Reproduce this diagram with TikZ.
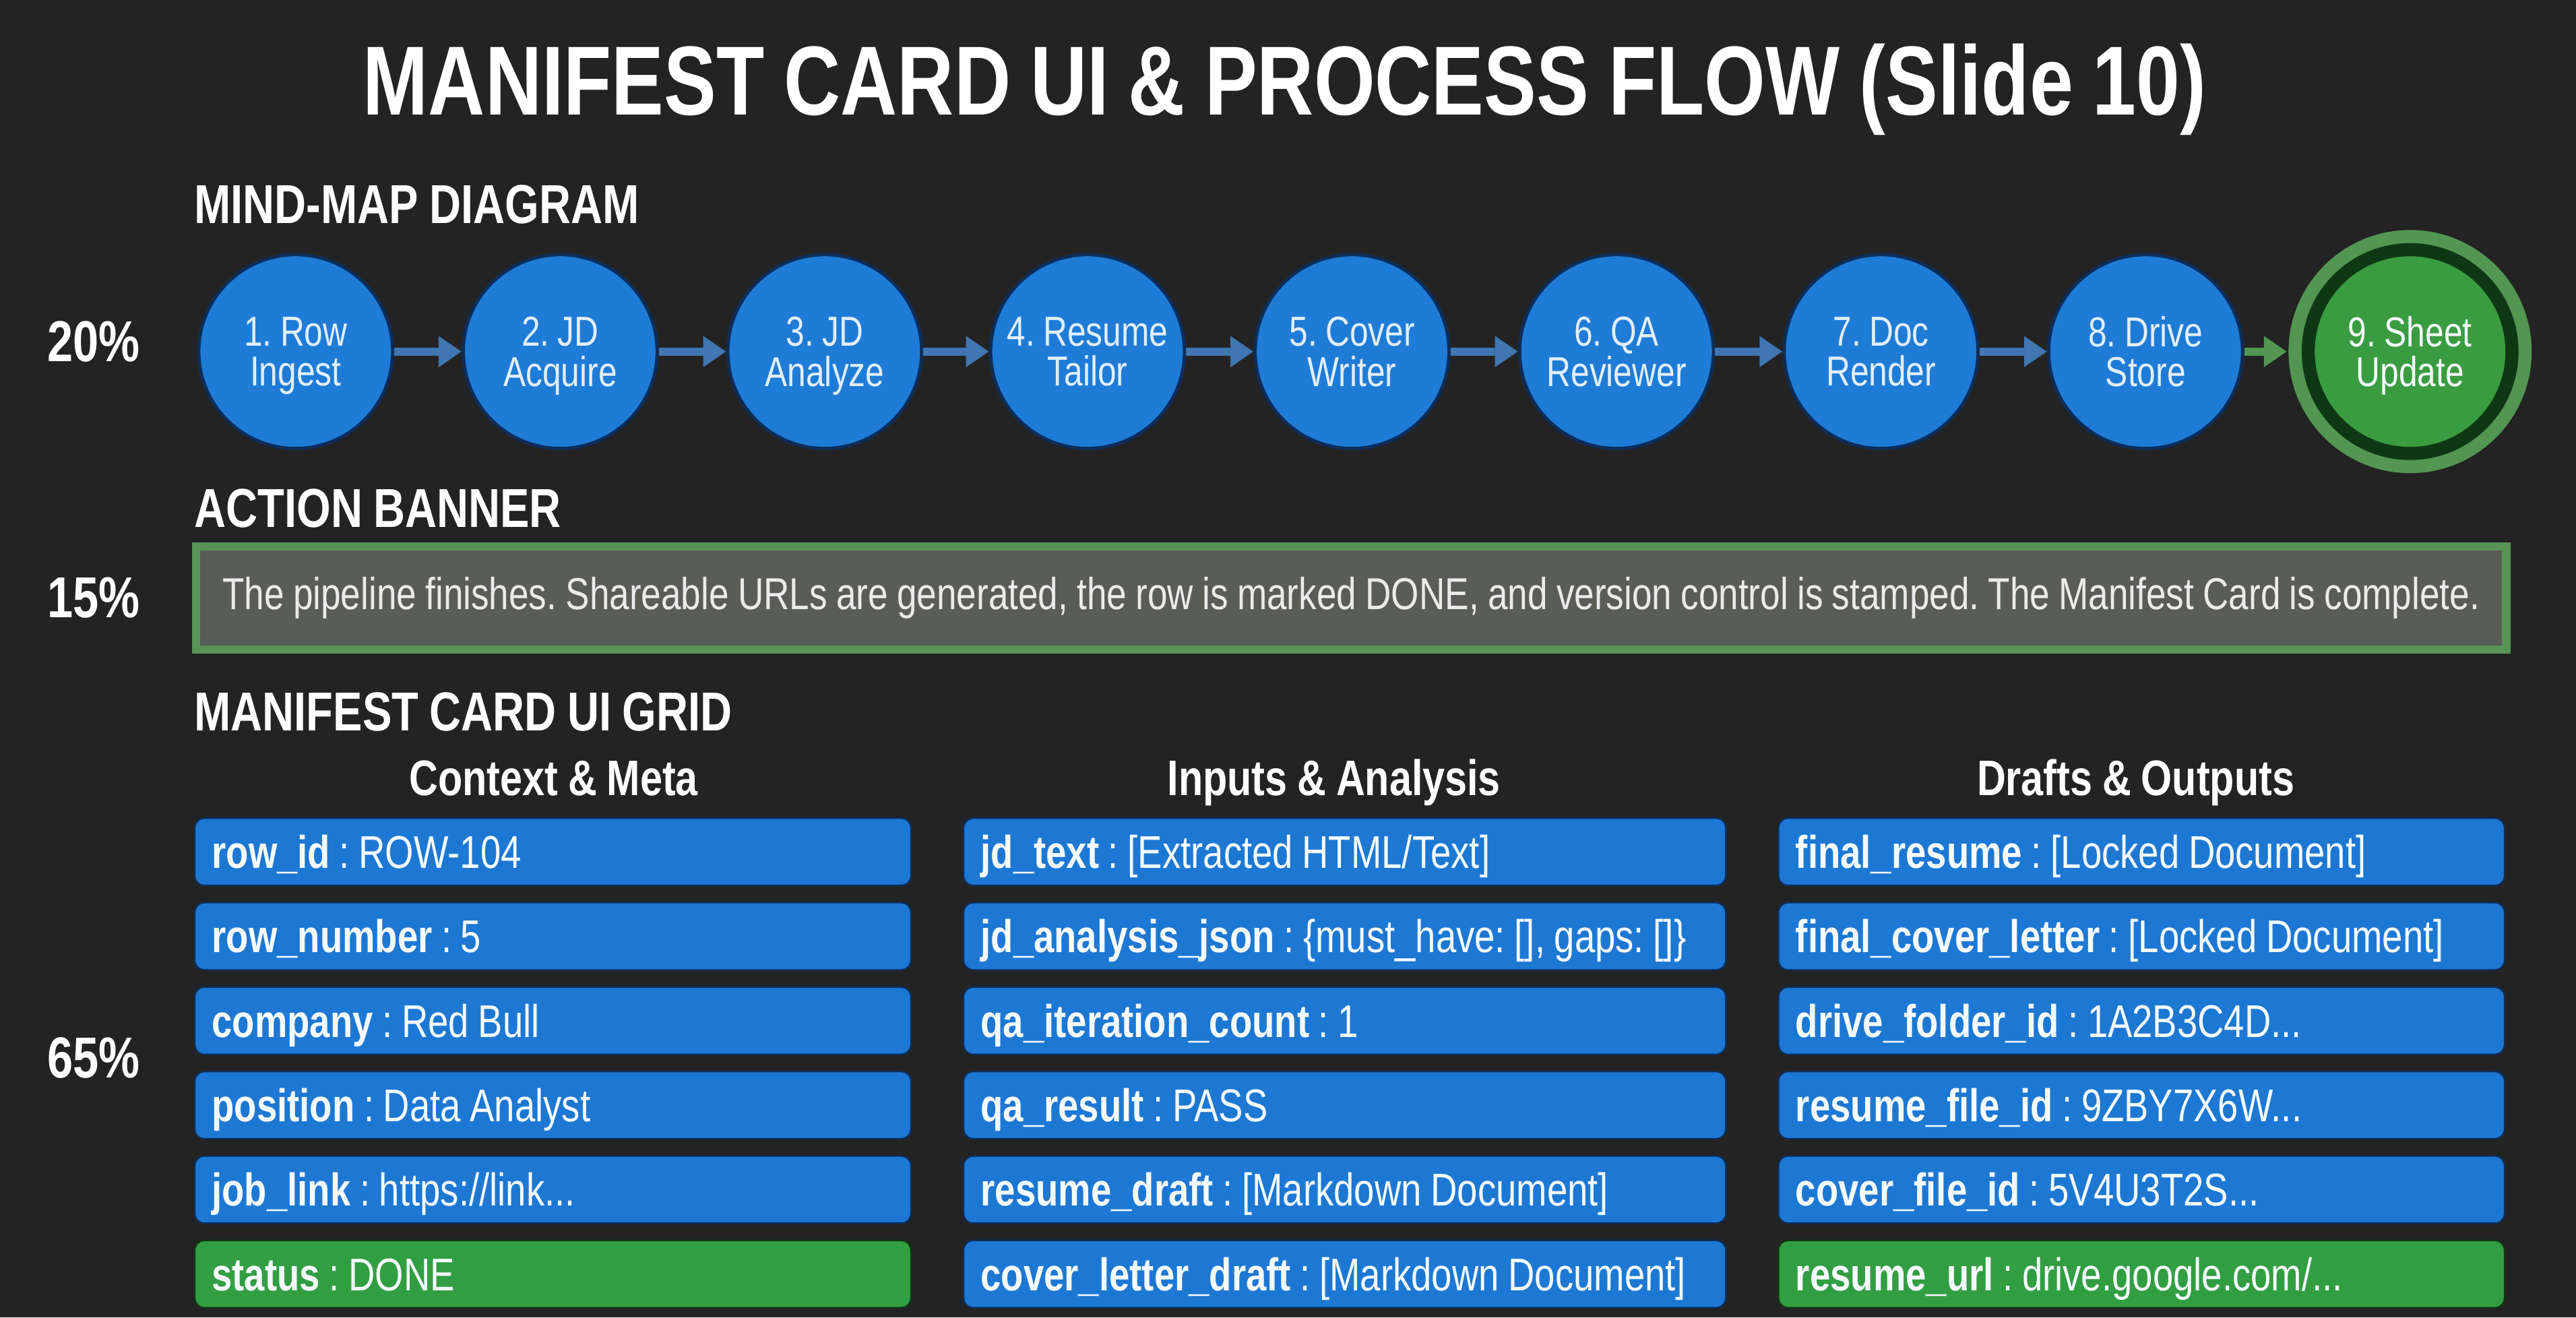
\documentclass[tikz,border=0pt]{standalone}
\usepackage{fontspec}
\setmainfont{Liberation Sans}[FakeStretch=0.8, WordSpace=0.9]
\usetikzlibrary{arrows.meta}

\definecolor{slidebg}{RGB}{35,35,35}
\definecolor{stepblue}{RGB}{31,124,214}
\definecolor{stepedge}{RGB}{12,45,90}
\definecolor{flowblue}{RGB}{64,118,178}
\definecolor{donegreen}{RGB}{58,156,64}
\definecolor{ringgreen}{RGB}{82,150,82}
\definecolor{ringdark}{RGB}{14,56,20}
\definecolor{bannergray}{RGB}{90,92,88}
\definecolor{bannerline}{RGB}{88,148,88}
\definecolor{fieldblue}{RGB}{29,120,211}
\definecolor{fieldgreen}{RGB}{50,158,66}
\definecolor{keytext}{RGB}{245,250,255}
\definecolor{valtext}{RGB}{226,238,250}

\tikzset{
    slidetitle/.style={anchor=base, inner sep=0pt, text=white, font=\fontsize{34}{40}\selectfont\bfseries},
    pct/.style={anchor=base, inner sep=0pt, text=white, font=\fontsize{20}{24}\selectfont\bfseries},
    sechead/.style={anchor=base west, inner sep=0pt, text=white, font=\fontsize{19}{22}\selectfont\bfseries},
    colhead/.style={anchor=base, inner sep=0pt, text=white, font=\fontsize{17.3}{20}\selectfont\bfseries},
    stepnode/.style={circle, fill=stepblue, draw=stepedge, line width=0.4mm, minimum size=23.6mm, inner sep=0pt,
        align=center, text=valtext, text depth=0pt, font=\fontsize{14.5}{13.8}\selectfont},
    donenode/.style={stepnode, fill=ringgreen, draw=none, minimum size=29.6mm, text=keytext,
        path picture={\fill[ringdark] (path picture bounding box.center) circle (13.2mm);
                      \fill[donegreen] (path picture bounding box.center) circle (11.6mm);}},
    flowarrow/.style={draw=flowblue, line width=1mm, -{Triangle[length=2.8mm,width=3.6mm]}},
    banner/.style={draw=bannerline, line width=1mm, fill=bannergray, minimum width=281.2mm, minimum height=12.6mm,
        inner sep=0pt, text=white!92!black, font=\fontsize{15.5}{18}\selectfont},
    fieldbox/.style={anchor=west, rounded corners=1.2mm, fill=fieldblue, draw=stepedge, line width=0.2mm,
        inner xsep=2.1mm, inner ysep=0pt, minimum height=8.2mm, align=flush left, text=keytext,
        text height=11.3pt, text depth=0pt, font=\fontsize{15.9}{18}\selectfont},
    ctxfield/.style={fieldbox, text width=83mm},
    inpfield/.style={fieldbox, text width=88.6mm},
    outfield/.style={fieldbox, text width=84.2mm},
    donefield/.style={fill=fieldgreen, draw=ringdark}
}

\begin{document}
\frenchspacing
\begin{tikzpicture}[x=0.2mm, y=-0.2mm]
        \fill[slidebg] (0,0) rectangle (1568,802);

        \node[slidetitle] at (782,70) (title) {MANIFEST CARD UI \& PROCESS FLOW (Slide 10)};

        \node[sechead] at (118,136) (mindmap) {MIND-MAP DIAGRAM};
        \node[sechead] at (118,321) (actionhead) {ACTION BANNER};
        \node[sechead] at (118,445) (gridhead) {MANIFEST CARD UI GRID};

        \node[pct] at (57,220) (pcttop) {20\%};
        \node[pct] at (57,376) (pctmid) {15\%};
        \node[pct] at (57,656) (pctlow) {65\%};

        % pipeline steps
        \node[stepnode] at (180,214) (c1) {1. Row\\Ingest};
        \node[stepnode] at (341,214) (c2) {2. JD\\Acquire};
        \node[stepnode] at (502,214) (c3) {3. JD\\Analyze};
        \node[stepnode] at (662,214) (c4) {4. Resume\\Tailor};
        \node[stepnode] at (823,214) (c5) {5. Cover\\Writer};
        \node[stepnode] at (984,214) (c6) {6. QA\\Reviewer};
        \node[stepnode] at (1145,214) (c7) {7. Doc\\Render};
        \node[stepnode] at (1306,214) (c8) {8. Drive\\Store};
        \node[donenode] at (1467,214) (c9) {9. Sheet\\Update};

        \draw[flowarrow] (c1) -- (c2);
        \draw[flowarrow] (c2) -- (c3);
        \draw[flowarrow] (c3) -- (c4);
        \draw[flowarrow] (c4) -- (c5);
        \draw[flowarrow] (c5) -- (c6);
        \draw[flowarrow] (c6) -- (c7);
        \draw[flowarrow] (c7) -- (c8);
        \draw[flowarrow, draw=ringgreen] (c8) -- (c9);

        \node[banner] at (822.5,364) (action) {The pipeline finishes. Shareable URLs are generated, the row is marked DONE, and version control is stamped. The Manifest Card is complete.};

        % manifest card grid
        \node[colhead] at (337,484) (ctxhead) {Context \& Meta};
        \node[colhead] at (812,484) (inphead) {Inputs \& Analysis};
        \node[colhead] at (1300,484) (outhead) {Drafts \& Outputs};

        \node[ctxfield] at (118,518.5) (ctx1) {\textbf{row\_id} : ROW-104};
        \node[ctxfield] at (118,569.9) (ctx2) {\textbf{row\_number} : 5};
        \node[ctxfield] at (118,621.3) (ctx3) {\textbf{company} : Red Bull};
        \node[ctxfield] at (118,672.7) (ctx4) {\textbf{position} : Data Analyst};
        \node[ctxfield] at (118,724.1) (ctx5) {\textbf{job\_link} : https://link...};
        \node[ctxfield, donefield] at (118,775.5) (ctx6) {\textbf{status} : DONE};

        \node[inpfield] at (586,518.5) (inp1) {\textbf{jd\_text} : [Extracted HTML/Text]};
        \node[inpfield] at (586,569.9) (inp2) {\textbf{jd\_analysis\_json} : \{must\_have: [], gaps: []\}};
        \node[inpfield] at (586,621.3) (inp3) {\textbf{qa\_iteration\_count} : 1};
        \node[inpfield] at (586,672.7) (inp4) {\textbf{qa\_result} : PASS};
        \node[inpfield] at (586,724.1) (inp5) {\textbf{resume\_draft} : [Markdown Document]};
        \node[inpfield] at (586,775.5) (inp6) {\textbf{cover\_letter\_draft} : [Markdown Document]};

        \node[outfield] at (1082,518.5) (out1) {\textbf{final\_resume} : [Locked Document]};
        \node[outfield] at (1082,569.9) (out2) {\textbf{final\_cover\_letter} : [Locked Document]};
        \node[outfield] at (1082,621.3) (out3) {\textbf{drive\_folder\_id} : 1A2B3C4D...};
        \node[outfield] at (1082,672.7) (out4) {\textbf{resume\_file\_id} : 9ZBY7X6W...};
        \node[outfield] at (1082,724.1) (out5) {\textbf{cover\_file\_id} : 5V4U3T2S...};
        \node[outfield, donefield] at (1082,775.5) (out6) {\textbf{resume\_url} : drive.google.com/...};
\end{tikzpicture}
\end{document}
